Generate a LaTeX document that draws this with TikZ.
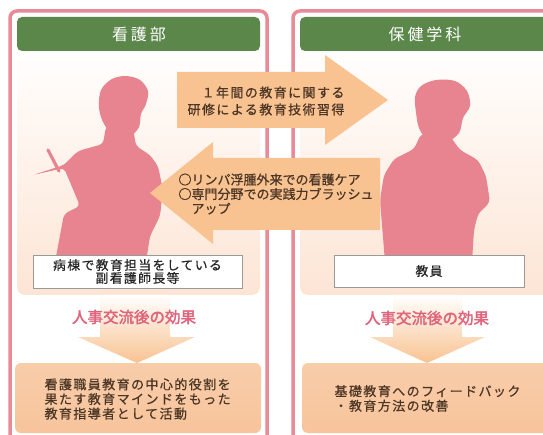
\documentclass[tikz,border=0pt]{standalone}
\usepackage{fontspec}
\newfontfamily\jp{Noto Sans CJK JP}[FakeBold=0.6]
\newfontfamily\jpspaced{Noto Sans CJK JP}[LetterSpace=11, FakeBold=0.6]
\newfontfamily\jpwide{Noto Sans CJK JP}[LetterSpace=18]
\newfontfamily\jpheavy{Noto Sans CJK JP}[FakeBold=2.2]

\definecolor{rimpink}{HTML}{E88B97}
\definecolor{headgreen}{HTML}{5C874B}
\definecolor{figpink}{HTML}{E8848F}
\definecolor{arrowpeach}{HTML}{F9C291}
\definecolor{boxpeach}{HTML}{F7C49B}
\definecolor{bgpeach}{HTML}{FDE5D5}
\definecolor{inkbrown}{HTML}{4B3524}
\definecolor{effectpink}{HTML}{E0647C}

\begin{document}
\begin{tikzpicture}[x=1pt, y=-1pt, font=\jp]
                \tikzstyle{panel} = [draw=rimpink, line width=3.5pt, rounded corners=7pt, fill=white]
                \tikzstyle{backdrop} = [top color=white, bottom color=bgpeach, rounded corners=8pt]
                \tikzstyle{header} = [fill=headgreen, rounded corners=5pt]
                \tikzstyle{title} = [text=white, font=\jpwide\fontsize{16}{16}\selectfont]
                \tikzstyle{figure} = [fill=figpink]
                \tikzstyle{swap} = [fill=arrowpeach]
                \tikzstyle{swaptext} = [text=inkbrown, font=\jpspaced\fontsize{13}{17}\selectfont]
                \tikzstyle{role} = [fill=white, draw=gray!80, line width=0.9pt]
                \tikzstyle{roletext} = [text=black!85, font=\jpspaced\fontsize{12.8}{13}\selectfont, align=center]
                \tikzstyle{flow} = [top color=white, bottom color=arrowpeach]
                \tikzstyle{effect} = [text=effectpink, font=\jpheavy\fontsize{15.5}{16}\selectfont]
                \tikzstyle{result} = [top color=boxpeach!85!white, bottom color=boxpeach, rounded corners=6pt]
                \tikzstyle{resulttext} = [text=inkbrown, font=\jpspaced\fontsize{13}{14.6}\selectfont, align=left, anchor=west]
                \useasboundingbox (0,0) rectangle (543,435);
                \clip (0,0) rectangle (543,435);
                \fill[white] (0,0) rectangle (543,435);
                % two departments
                \draw[panel] (10,11) rectangle (267,460);
                \draw[panel] (293,11) rectangle (580,460);
                \shade[backdrop] (17,44) rectangle (260,295);
                \shade[backdrop] (300,44) rectangle (580,295);
                \fill[header] (17,17) rectangle (260,51);
                \fill[header] (300,17) rectangle (580,51);
                \node[title] (nursing) at (139,34) {看護部};
                \node[title] (school) at (425,34) {保健学科};
                % nurse with clipboard
                \fill[figure] plot[smooth cycle, tension=0.55] coordinates {(99,108) (101,90) (112,79) (126,76) (140,80) (148,91) (146,104) (141,114) (139,127) (130,136) (114,135) (104,124)};
                \fill[figure, rounded corners=4pt] (106,126) -- (103,144) -- (78,151) -- (64,165) -- (33,175) -- (64,168) -- (80,206) -- (64,214) -- (55,262) -- (146,262) -- (150,236) -- (160,216) -- (163,190) -- (158,166) -- (150,155) -- (136,146) -- (133,128) -- cycle;
                \draw[figpink, line width=3.2pt, line cap=round] (48,150) -- (59,171);
                % teacher
                \fill[figure] plot[smooth cycle, tension=0.55] coordinates {(416,112) (415,97) (421,86) (436,80) (455,81) (467,91) (470,106) (463,118) (459,133) (446,142) (428,140) (419,128)};
                \fill[figure, rounded corners=4pt] (421,134) -- (414,149) -- (394,159) -- (384,175) -- (380,200) -- (382,225) -- (385,262) -- (472,262) -- (474,230) -- (478,214) -- (490,202) -- (486,176) -- (478,160) -- (460,150) -- (450,136) -- cycle;
                % exchange arrows
                \fill[swap] (177,72) -- (325,72) -- (325,55) -- (388,100) -- (325,145) -- (325,128) -- (177,128) -- cycle;
                \fill[swap] (380,158) -- (213,158) -- (213,142) -- (150,193) -- (213,244) -- (213,230) -- (380,230) -- cycle;
                \node[swaptext, align=right] (training) at (266,101) {１年間の教育に関する\\研修による教育技術習得};
                \node[swaptext, font=\jp\fontsize{13}{14.5}\selectfont, align=left, anchor=west] (practice) at (175,194) {○リンパ浮腫外来での看護ケア\\○専門分野での実践力ブラッシュ\\\hspace{1em}アップ};
                % who is exchanged
                \draw[role] (33,255) rectangle (242,288);
                \draw[role] (334,255) rectangle (524,287);
                \node[roletext] (deputy) at (137.5,271.5) {病棟で教育担当をしている\\副看護師長等};
                \node[roletext] (teacher) at (429,271) {教員};
                % effects
                \shade[flow] (100,295) -- (170,295) -- (170,337) -- (195,337) -- (137,363) -- (78,337) -- (100,337) -- cycle;
                \shade[flow] (393,295) -- (462,295) -- (462,337) -- (485,337) -- (427,363) -- (370,337) -- (393,337) -- cycle;
                \node[effect] (effectleft) at (134,317) {人事交流後の効果};
                \node[effect] (effectright) at (427,318) {人事交流後の効果};
                \shade[result] (15,363) rectangle (261,433);
                \shade[result] (302,363) rectangle (580,433);
                \node[resulttext] (leader) at (41,399) {看護職員教育の中心的役割を\\果たす教育マインドをもった\\教育指導者として活動};
                \node[resulttext] (feedback) at (331,398.5) {基礎教育へのフィードバック\\・教育方法の改善};
            \end{tikzpicture}
\end{document}
